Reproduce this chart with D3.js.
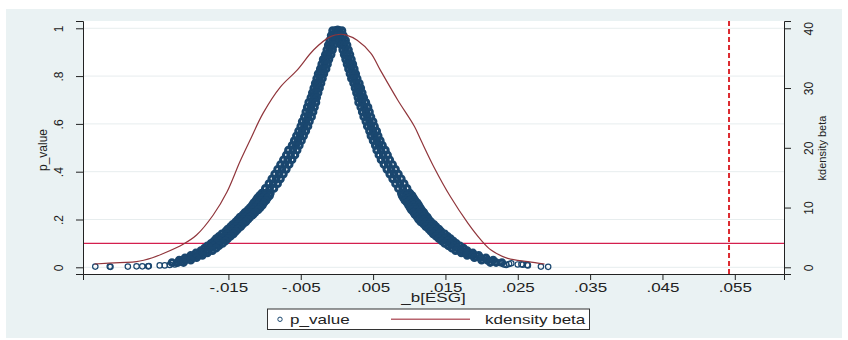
<!DOCTYPE html>
<html>
<head>
<meta charset="utf-8">
<script src="https://cdn.jsdelivr.net/npm/d3@7"></script>
<style>
  html, body { margin: 0; padding: 0; background: #fff; }
  svg { display: block; font-family: "Liberation Sans", Arial, sans-serif; }
  .axis text { fill: #222; font-size: 12px; }
  .axis line, .axis path { stroke: #222; }
</style>
</head>
<body>
<div id="chart"></div>
<script>
'use strict';

// p-value levels shared by the dense band of the scatter
var pLevels = [.99,.97,.95,.93,.91,.89,.87,.85,.83,.81,.79,.77,.75,.73,.71,.69,.67,.65,.63,.61,.59,.57,.55,.53,.51,.49,.47,.45,.43,.41,.39,.37,.35,.33,.31,
    .30,.29,.28,.27,.26,.25,.24,.23,.22,.21,.20,.19,.18,.17,.16,.15,.14,.13,.12,.11,.10,.09,.08,.07,.06,.05,.04,.03,.02];

// _b[ESG] estimates at each level: left branch (outer edge, middle, inner edge)
var leftOuter = [-.0006,-.0008,-.0010,-.0012,-.0014,-.0016,-.0019,-.0021,-.0023,-.0026,-.0028,-.0030,-.0032,-.0034,-.0036,-.0039,-.0041,-.0043,-.0045,-.0048,-.0050,-.0053,-.0056,-.0059,-.0062,-.0067,-.0070,-.0074,-.0078,-.0082,-.0086,-.0090,-.0094,-.0099,-.0104,
    -.0107,-.0110,-.0112,-.0115,-.0117,-.0120,-.0123,-.0127,-.0130,-.0134,-.0137,-.0140,-.0144,-.0147,-.0151,-.0154,-.0159,-.0163,-.0167,-.0170,-.0174,-.0179,-.0183,-.0188,-.0195,-.0202,-.0210,-.0218,-.0228];
var leftMid = [-.0002,-.0004,-.0006,-.0008,-.0010,-.0012,-.0015,-.0017,-.0019,-.0022,-.0024,-.0026,-.0028,-.0030,-.0032,-.0034,-.0036,-.0038,-.0040,-.0043,-.0045,-.0048,-.0051,-.0054,-.0057,-.0061,-.0064,-.0068,-.0072,-.0076,-.0080,-.0084,-.0088,-.0093,-.0098,
    -.0100,-.0103,-.0105,-.0108,-.0110,-.0113,-.0116,-.0120,-.0123,-.0127,-.0130,-.0133,-.0137,-.0140,-.0144,-.0147,-.0151,-.0155,-.0159,-.0162,-.0166,-.0171,-.0175,-.0180,-.0187,-.0194,-.0202,-.0210,-.0220];
var leftInner = [.0002,.0000,-.0002,-.0004,-.0006,-.0008,-.0011,-.0013,-.0015,-.0018,-.0020,-.0022,-.0024,-.0026,-.0028,-.0029,-.0031,-.0033,-.0035,-.0038,-.0040,-.0043,-.0046,-.0049,-.0052,-.0055,-.0058,-.0062,-.0066,-.0070,-.0074,-.0078,-.0082,-.0087,-.0092,
    -.0093,-.0096,-.0098,-.0101,-.0103,-.0106,-.0109,-.0113,-.0116,-.0120,-.0123,-.0126,-.0130,-.0133,-.0137,-.0140,-.0143,-.0147,-.0151,-.0154,-.0158,-.0163,-.0167,-.0172,-.0179,-.0186,-.0194,-.0202,-.0212];

// right branch (inner edge, middle, outer edge)
var rightInner = [-.0001,.0001,.0004,.0006,.0008,.0010,.0012,.0014,.0016,.0018,.0020,.0023,.0025,.0027,.0029,.0030,.0033,.0035,.0037,.0040,.0042,.0045,.0047,.0050,.0053,.0055,.0058,.0061,.0065,.0069,.0073,.0077,.0081,.0085,.0089,
    .0090,.0092,.0094,.0097,.0099,.0101,.0103,.0106,.0108,.0111,.0113,.0116,.0120,.0123,.0127,.0130,.0133,.0137,.0141,.0145,.0149,.0154,.0159,.0164,.0172,.0180,.0190,.0200,.0212];
var rightMid = [.0003,.0005,.0008,.0010,.0012,.0014,.0016,.0018,.0020,.0022,.0024,.0027,.0029,.0031,.0033,.0035,.0038,.0040,.0042,.0045,.0047,.0050,.0052,.0055,.0058,.0061,.0064,.0067,.0071,.0075,.0079,.0083,.0087,.0091,.0095,
    .0097,.0099,.0101,.0104,.0106,.0108,.0110,.0113,.0115,.0118,.0120,.0123,.0127,.0130,.0134,.0137,.0141,.0145,.0149,.0153,.0157,.0162,.0167,.0172,.0180,.0188,.0198,.0208,.0220];
var rightOuter = [.0007,.0009,.0012,.0014,.0016,.0018,.0020,.0022,.0024,.0026,.0028,.0031,.0033,.0035,.0037,.0040,.0043,.0045,.0047,.0050,.0052,.0055,.0057,.0060,.0063,.0067,.0070,.0073,.0077,.0081,.0085,.0089,.0093,.0097,.0101,
    .0104,.0106,.0108,.0111,.0113,.0115,.0117,.0120,.0122,.0125,.0127,.0130,.0134,.0137,.0141,.0144,.0149,.0153,.0157,.0161,.0165,.0170,.0175,.0180,.0188,.0196,.0206,.0216,.0228];

// sparse points in the tails and at the peak
var tailBeta = [-.0334,-.0314,-.0313,-.0289,-.0277,-.0269,-.0261,-.0260,-.0245,-.0238,-.0231,-.0224,-.0222,-.0216,
    .0219,.0225,.0231,.0234,.0238,.0241,.0250,.0255,.0257,.0263,.0264,.0282,.0292,.0001];
var tailP = [.003,.003,.002,.003,.004,.004,.004,.005,.008,.008,.010,.012,.016,.020,
    .023,.018,.012,.010,.014,.017,.012,.013,.011,.010,.008,.003,.002,.998];

// kernel density of beta (right axis)
var densBeta = [-.0335,-.0300,-.0277,-.0255,-.0240,-.0212,-.0194,-.0171,-.0152,-.0134,-.0120,-.0102,-.0078,-.0055,-.0032,-.0009,.0005,.0012,.0028,.0047,.0060,.0084,.0107,.0116,.0134,.0157,.0181,.0199,.0213,.0236,.0264,.0287];
var density = [0.55,0.8,0.94,1.6,2.3,3.9,5.4,8.75,12.6,17.7,21.3,25.8,30.2,33.0,36.4,38.6,39.0,38.9,38.0,35.8,33.0,28.0,23.6,21.3,16.8,11.8,7.4,4.6,2.9,1.5,0.94,0.55];

// reference lines
var pLine = 0.1;
var betaLine = 0.0542;

// axes
var xTicks = [-.015,-.005,.005,.015,.025,.035,.045,.055];
var xTickLabels = ['-.015','-.005','.005','.015','.025','.035','.045','.055'];
var pTicks = [0,.2,.4,.6,.8,1];
var pTickLabels = ['0','.2','.4','.6','.8','1'];
var dTicks = [0,10,20,30,40];
var dTickLabels = ['0','10','20','30','40'];

var width = 848, height = 340,
    plot = {left: 83, right: 784, top: 21, bottom: 274},
    navy = '#1a476f', maroon = '#90353b',
    stretch = 1.42;

var svg = d3.select('#chart').append('svg')
    .attr('width', width)
    .attr('height', height);

svg.append('rect').attr('width', width).attr('height', height).attr('fill', '#fff');
svg.append('rect').attr('x', 6).attr('y', 9).attr('width', 836).attr('height', 329).attr('fill', '#eaf2f3');
svg.append('rect')
    .attr('x', plot.left).attr('y', plot.top)
    .attr('width', plot.right - plot.left).attr('height', plot.bottom - plot.top)
    .attr('fill', '#fff');

var x = d3.scaleLinear().domain([-0.0351, 0.0618]).range([plot.left, plot.right]);
var y = d3.scaleLinear().domain([-0.028, 1.0305]).range([plot.bottom, plot.top]);
var y2 = d3.scaleLinear().domain([-1.12, 41.22]).range([plot.bottom, plot.top]);

// Grid lines.
svg.append('g').selectAll('line')
    .data(pTicks)
    .enter().append('line')
    .attr('x1', plot.left).attr('x2', plot.right)
    .attr('y1', function (d) { return y(d); })
    .attr('y2', function (d) { return y(d); })
    .attr('stroke', '#e7edee')
    .attr('stroke-width', 1);

// Reference lines (drawn below the plots, like Stata does).
svg.append('line')
    .attr('x1', plot.left).attr('x2', plot.right)
    .attr('y1', y(pLine)).attr('y2', y(pLine))
    .attr('stroke', '#d41f4e').attr('stroke-width', 1.1);

svg.append('line')
    .attr('x1', x(betaLine)).attr('x2', x(betaLine))
    .attr('y1', plot.top).attr('y2', plot.bottom)
    .attr('stroke', '#dc2a30').attr('stroke-width', 2)
    .attr('stroke-dasharray', '5,3');

// Scatter of p-values: the dense band first, then the sparse tails.
var band = [];
pLevels.forEach(function (p, i) {
    [leftOuter, leftMid, leftInner, rightInner, rightMid, rightOuter].forEach(function (arr) {
        band.push({b: arr[i], p: p});
    });
});
var tails = tailBeta.map(function (b, i) {
    return {b: b, p: tailP[i]};
});

svg.append('g').selectAll('circle')
    .data(band)
    .enter().append('circle')
    .attr('cx', function (d) { return x(d.b); })
    .attr('cy', function (d) { return y(d.p); })
    .attr('r', 2.8)
    .attr('fill', 'none')
    .attr('stroke', navy)
    .attr('stroke-width', 3.1);

svg.append('g').selectAll('circle')
    .data(tails)
    .enter().append('circle')
    .attr('cx', function (d) { return x(d.b); })
    .attr('cy', function (d) { return y(d.p); })
    .attr('r', 2.7)
    .attr('fill', 'none')
    .attr('stroke', navy)
    .attr('stroke-width', 1.2);

// Kernel density line.
var line = d3.line()
    .x(function (d, i) { return x(densBeta[i]); })
    .y(function (d) { return y2(d); })
    .curve(d3.curveCatmullRom);

svg.append('path')
    .attr('d', line(density))
    .attr('fill', 'none')
    .attr('stroke', maroon)
    .attr('stroke-width', 1.2);

// Bottom axis.
var gx = svg.append('g')
    .attr('class', 'axis')
    .attr('transform', 'translate(0,' + plot.bottom + ')')
    .call(d3.axisBottom(x).tickValues(xTicks).tickSize(6).tickPadding(3)
        .tickFormat(function (d, i) { return xTickLabels[i]; }));
gx.selectAll('text').attr('transform', 'scale(' + stretch + ',1)');

// Left axis.
var gy = svg.append('g')
    .attr('class', 'axis')
    .attr('transform', 'translate(' + plot.left + ',0)')
    .call(d3.axisLeft(y).tickValues(pTicks).tickSize(7)
        .tickFormat(function (d, i) { return pTickLabels[i]; }));
gy.selectAll('text')
    .attr('transform', 'rotate(-90)')
    .attr('x', 0).attr('y', -20.5).attr('dy', 0)
    .attr('text-anchor', 'middle');

// Right axis.
var gy2 = svg.append('g')
    .attr('class', 'axis')
    .attr('transform', 'translate(' + plot.right + ',0)')
    .call(d3.axisRight(y2).tickValues(dTicks).tickSize(7)
        .tickFormat(function (d, i) { return dTickLabels[i]; }));
gy2.selectAll('text')
    .attr('transform', 'rotate(-90)')
    .attr('x', 0).attr('y', 28.5).attr('dy', 0)
    .attr('text-anchor', 'middle');

// Axis titles.
svg.append('text')
    .attr('transform', 'translate(' + ((plot.left + plot.right) / 2) + ',302) scale(' + stretch + ',1)')
    .attr('text-anchor', 'middle')
    .attr('font-size', 12).attr('fill', '#222')
    .text('_b[ESG]');

svg.append('text')
    .attr('transform', 'translate(46.5,150) rotate(-90)')
    .attr('text-anchor', 'middle')
    .attr('font-size', 12).attr('fill', '#222')
    .text('p_value');

svg.append('text')
    .attr('transform', 'translate(826,148) rotate(-90)')
    .attr('text-anchor', 'middle')
    .attr('font-size', 11).attr('fill', '#222')
    .text('kdensity beta');

// Legend.
var legend = svg.append('g');
legend.append('rect')
    .attr('x', 267.5).attr('y', 309)
    .attr('width', 322).attr('height', 20.5)
    .attr('fill', '#fff').attr('stroke', '#333').attr('stroke-width', 1);
legend.append('circle')
    .attr('cx', 280).attr('cy', 319.3).attr('r', 2.2)
    .attr('fill', 'none').attr('stroke', navy).attr('stroke-width', 1);
legend.append('text')
    .attr('transform', 'translate(290,323.5) scale(' + stretch + ',1)')
    .attr('font-size', 12).attr('fill', '#222')
    .text('p_value');
legend.append('line')
    .attr('x1', 391).attr('x2', 470)
    .attr('y1', 319.3).attr('y2', 319.3)
    .attr('stroke', '#b8646e').attr('stroke-width', 1.4);
legend.append('text')
    .attr('transform', 'translate(485,323.5) scale(' + stretch + ',1)')
    .attr('font-size', 12).attr('fill', '#222')
    .text('kdensity beta');
</script>
</body>
</html>
